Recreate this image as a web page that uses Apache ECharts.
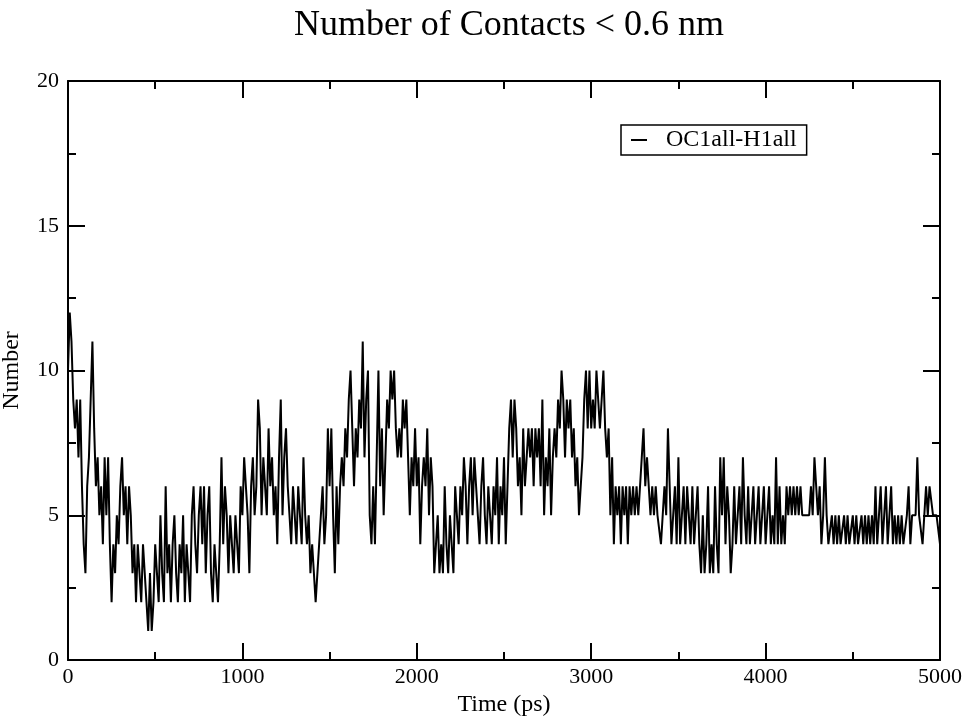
<!DOCTYPE html>
<html>
<head>
<meta charset="utf-8">
<title>Number of Contacts</title>
<script src="https://cdn.jsdelivr.net/npm/echarts@6/dist/echarts.min.js"></script>
<style>
  html, body { margin: 0; padding: 0; background: #fff; }
  #chart { width: 972px; height: 719px; }
</style>
</head>
<body>
<div id="chart"></div>
<script>
// contacts counted every 10 ps in 1000 ps blocks
const timeStep = 10;
const contacts0to1000 = [
  10, 12, 11, 9, 8, 9, 7, 9, 6, 4, 3, 6, 7, 9, 11, 8, 6, 7, 5, 6,
  4, 7, 5, 7, 4, 2, 4, 3, 5, 4, 6, 7, 5, 6, 4, 6, 5, 3, 4, 2,
  4, 3, 2, 4, 3, 2, 1, 3, 1, 2, 4, 3, 2, 5, 3, 2, 6, 3, 4, 2,
  4, 5, 3, 2, 4, 3, 5, 2, 4, 3, 2, 5, 6, 4, 3, 5, 6, 4, 6, 3,
  5, 6, 3, 2, 4, 3, 2, 4, 7, 4, 6, 5, 3, 5, 4, 3, 5, 4, 3, 6
];
const contacts1000to2000 = [
  5, 7, 6, 5, 3, 6, 7, 5, 6, 9, 8, 5, 7, 6, 5, 8, 6, 7, 5, 6,
  4, 7, 9, 5, 7, 8, 6, 5, 4, 6, 5, 4, 6, 5, 4, 7, 5, 4, 5, 3,
  4, 3, 2, 2, 4, 5, 6, 4, 5, 8, 6, 8, 5, 3, 6, 4, 6, 7, 6, 8,
  7, 9, 10, 8, 6, 8, 7, 9, 8, 11, 7, 9, 10, 5, 4, 6, 4, 7, 10, 6,
  8, 5, 7, 9, 8, 10, 9, 10, 8, 7, 8, 7, 9, 8, 9, 7, 5, 7, 6, 8
];
const contacts2000to3000 = [
  6, 7, 4, 6, 7, 6, 8, 5, 7, 6, 3, 4, 5, 3, 4, 3, 6, 4, 3, 5,
  4, 3, 6, 5, 4, 6, 5, 7, 6, 4, 6, 7, 5, 7, 6, 5, 4, 6, 7, 5,
  4, 6, 5, 4, 6, 5, 7, 4, 6, 5, 7, 4, 6, 8, 9, 7, 9, 8, 6, 7,
  5, 8, 6, 7, 8, 7, 8, 6, 8, 7, 8, 6, 9, 5, 7, 6, 8, 5, 7, 8,
  7, 9, 8, 10, 9, 7, 9, 8, 9, 7, 8, 6, 7, 5, 6, 7, 9, 10, 8, 10
];
const contacts3000to4000 = [
  8, 9, 8, 10, 9, 8, 9, 10, 8, 7, 8, 5, 7, 4, 6, 5, 6, 4, 6, 5,
  6, 4, 6, 5, 6, 5, 6, 5, 6, 7, 8, 6, 7, 6, 5, 6, 5, 6, 5, 5,
  4, 5, 6, 5, 8, 6, 4, 5, 6, 4, 7, 4, 5, 6, 4, 6, 5, 4, 6, 4,
  5, 6, 4, 3, 5, 3, 4, 6, 3, 4, 3, 6, 4, 3, 7, 5, 7, 4, 6, 5,
  3, 4, 6, 4, 5, 6, 4, 7, 5, 4, 6, 4, 5, 6, 4, 5, 6, 4, 5, 6
];
const contacts4000to5000 = [
  4, 5, 6, 4, 5, 4, 7, 4, 6, 4, 5, 4, 6, 5, 6, 5, 6, 5, 6, 5,
  6, 5, 5, 5, 5, 5, 6, 5, 7, 6, 5, 6, 4, 5, 7, 5, 4, 4, 5, 4,
  5, 4, 5, 4, 4, 5, 4, 5, 4, 4, 5, 4, 5, 4, 4, 5, 4, 5, 4, 5,
  4, 5, 4, 6, 4, 5, 6, 4, 5, 6, 4, 5, 6, 4, 5, 4, 5, 4, 5, 4,
  4, 5, 6, 4, 5, 5, 5, 7, 5, 5, 4, 5, 6, 5, 6, 6, 5, 5, 5, 5,
  4
];
const xTicks = [0, 1000, 2000, 3000, 4000, 5000];
const yTicks = [0, 5, 10, 15, 20];

const contacts = [].concat(contacts0to1000, contacts1000to2000,
  contacts2000to3000, contacts3000to4000, contacts4000to5000);
const seriesData = contacts.map(function (v, i) { return [i * timeStep, v]; });

const serif = 'Liberation Serif, Times New Roman, serif';

function axisBase(extra) {
  return Object.assign({
    type: 'value',
    axisLine: { show: true, onZero: false, lineStyle: { color: '#000', width: 2 } },
    axisTick: { show: true, inside: true, length: 17, lineStyle: { color: '#000', width: 2 } },
    minorTick: { show: true, splitNumber: 2, length: 8, lineStyle: { color: '#000', width: 2 } },
    splitLine: { show: false },
    axisLabel: { show: false }
  }, extra);
}

const labelStyle = {
  show: true, color: '#000', fontFamily: serif, fontSize: 22,
  formatter: function (v) { return String(v); }
};

var myChart = echarts.init(document.getElementById('chart'));
var option = {
  animation: false,
  backgroundColor: '#fff',
  title: {
    text: 'Number of Contacts < 0.6 nm',
    left: 504,
    textAlign: 'center',
    top: 3,
    textStyle: { fontFamily: serif, fontSize: 36, fontWeight: 'normal', color: '#000' }
  },
  grid: { left: 68, right: 32, top: 81, bottom: 59, outerBoundsMode: 'none', containLabel: false },
  legend: {
    left: 621,
    top: 125,
    orient: 'vertical',
    data: ['OC1all-H1all'],
    icon: 'rect',
    itemWidth: 16,
    itemHeight: 2,
    padding: [3, 10, 3, 10],
    borderColor: '#000',
    borderWidth: 1.5,
    textStyle: { fontFamily: serif, fontSize: 24, color: '#000', padding: [0, 0, 0, 14] }
  },
  xAxis: [
    axisBase({
      min: xTicks[0], max: xTicks[xTicks.length - 1], interval: 1000,
      position: 'bottom',
      name: 'Time (ps)', nameLocation: 'middle', nameGap: 33,
      nameTextStyle: { fontFamily: serif, fontSize: 24, color: '#000' },
      axisLabel: Object.assign({ margin: 6 }, labelStyle)
    }),
    axisBase({
      min: xTicks[0], max: xTicks[xTicks.length - 1], interval: 1000,
      position: 'top'
    })
  ],
  yAxis: [
    axisBase({
      min: yTicks[0], max: yTicks[yTicks.length - 1], interval: 5,
      position: 'left',
      name: 'Number', nameLocation: 'middle', nameGap: 44,
      nameTextStyle: { fontFamily: serif, fontSize: 24, color: '#000' },
      axisLabel: Object.assign({ margin: 9 }, labelStyle)
    }),
    axisBase({
      min: yTicks[0], max: yTicks[yTicks.length - 1], interval: 5,
      position: 'right'
    })
  ],
  series: [{
    name: 'OC1all-H1all',
    type: 'line',
    xAxisIndex: 0,
    yAxisIndex: 0,
    data: seriesData,
    showSymbol: false,
    symbol: 'none',
    color: '#000',
    lineStyle: { color: '#000', width: 2 }
  }]
};
myChart.setOption(option);
</script>
</body>
</html>
